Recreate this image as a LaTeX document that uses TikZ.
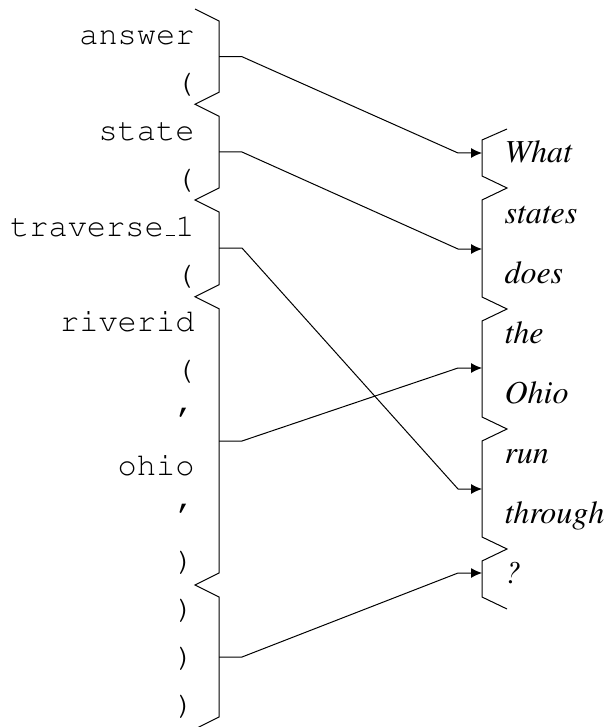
\documentclass[tikz,border=0pt]{standalone}
\usepackage[T1]{fontenc}
\usetikzlibrary{arrows.meta, calc}

% short underscore, as LaTeX draws \_
\newcommand{\shortus}{\kern.06em\vbox{\hrule width .3em}}

\begin{document}
\begin{tikzpicture}[x=0.5pt, y=-0.5pt, line width=0.5pt,
    tok/.style={anchor=base east, inner sep=0pt, font=\fontsize{16}{19}\fontfamily{pcr}\selectfont},
    word/.style={anchor=base west, inner sep=0pt, font=\fontsize{16}{19}\fontfamily{ptm}\itshape},
    link/.style={-{Latex[length=5.5pt, width=5pt]}}]
    \useasboundingbox (0,0) rectangle (608,727);

    % Logical form tokens
    \foreach \t [count=\i] in {answer, {(}, state, {(}, traverse\shortus 1, {(},
        riverid, {(}, ', ohio, ', {)}, {)}, {)}, {)}}
        \node[tok] (t\i) at (195, {45 + 47.8*(\i-1)}) {\t};

    % Sentence words
    \foreach \w [count=\i] in {What, states, does, the, Ohio, run, through, ?}
        \node[word] (w\i) at (504, {163 + 60*(\i-1)}) {\w};

    % Braces
    \draw (195,9) -- (219,21)
        foreach \y in {104.3, 200, 296.7, 585} { -- (219,\y-12) -- (195,\y) -- (219,\y+12) }
        -- (219,717) -- (195,729);
    \draw (507,129) -- (482,140)
        foreach \y in {188, 309, 429, 549} { -- (482,\y-12) -- (507,\y) -- (482,\y+12) }
        -- (482,597) -- (507,609);

    % Group anchors
    \foreach \y [count=\i] in {56.7, 152, 248, 441, 657}
        \coordinate (lg\i) at (219,\y);
    \foreach \y [count=\i] in {153, 249, 368, 489, 573}
        \coordinate (rg\i) at (482,\y);

    % Alignment links
    \foreach \a/\b in {1/1, 2/2, 3/4, 4/3, 5/5}
        \draw[link] (lg\a) -- ++(23,0) -- ($(rg\b)+(-24,0)$) -- (rg\b);
\end{tikzpicture}
\end{document}
